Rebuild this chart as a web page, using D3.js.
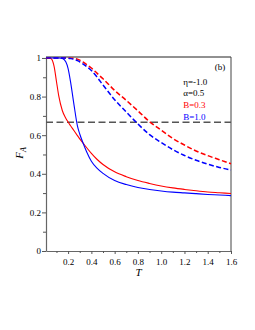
<!DOCTYPE html>
<html>
<head>
<meta charset="utf-8">
<script src="https://cdn.jsdelivr.net/npm/d3@7"></script>
<style>
  body { margin: 0; background: #fff; }
</style>
</head>
<body>
<div id="chart"></div>
<script>
// Temperature grid shared by all curves
const temps = [0.01, 0.05, 0.08, 0.1, 0.12, 0.15, 0.18, 0.2, 0.22, 0.25, 0.28, 0.3, 0.33, 0.36, 0.4,
               0.45, 0.5, 0.6, 0.7, 0.8, 0.9, 1.0, 1.1, 1.2, 1.3, 1.4, 1.5, 1.6];

// Solid curves
const redSolid = [1.0, 0.998, 0.955, 0.878, 0.802, 0.728, 0.688, 0.668, 0.65, 0.624, 0.598, 0.581, 0.558, 0.535, 0.506,
                  0.474, 0.448, 0.41, 0.385, 0.365, 0.35, 0.337, 0.327, 0.319, 0.312, 0.306, 0.302, 0.298];
const blueSolid = [1.0, 1.0, 1.0, 1.0, 1.0, 0.998, 0.98, 0.945, 0.88, 0.76, 0.648, 0.606, 0.557, 0.513, 0.465,
                   0.428, 0.402, 0.365, 0.344, 0.329, 0.319, 0.311, 0.305, 0.301, 0.297, 0.293, 0.29, 0.287];

// Dashed curves
const redDashed = [1.0, 1.0, 1.0, 1.0, 1.0, 1.0, 1.0, 1.0, 0.999, 0.998, 0.994, 0.989, 0.978, 0.966, 0.948,
                   0.92, 0.892, 0.832, 0.78, 0.726, 0.67, 0.626, 0.583, 0.549, 0.518, 0.494, 0.473, 0.452];
const blueDashed = [1.0, 1.0, 1.0, 1.0, 1.0, 1.0, 1.0, 0.999, 0.997, 0.993, 0.986, 0.98, 0.968, 0.955, 0.935,
                    0.9, 0.86, 0.784, 0.72, 0.658, 0.603, 0.562, 0.525, 0.495, 0.47, 0.45, 0.433, 0.42];

const refLevel = 2 / 3;

const xMajor = [0.2, 0.4, 0.6, 0.8, 1.0, 1.2, 1.4, 1.6];
const xMinor = [0.1, 0.3, 0.5, 0.7, 0.9, 1.1, 1.3, 1.5];
const yMajor = [0, 0.2, 0.4, 0.6, 0.8, 1];
const yMinor = [0.1, 0.3, 0.5, 0.7, 0.9];

const legendLines = [
    { label: "η=-1.0", color: "#000" },
    { label: "α=0.5", color: "#000" },
    { label: "B=0.3", color: "#ff0000" },
    { label: "B=1.0", color: "#0000ff" }
];

const serif = '"Liberation Serif", "DejaVu Serif", serif';

const svgWidth = 255;
const svgHeight = 330;
const margin = { top: 57, right: 24, bottom: 79, left: 46 };
const width = svgWidth - margin.left - margin.right;
const height = svgHeight - margin.top - margin.bottom;

const svg = d3.select('#chart').append('svg')
    .attr('width', svgWidth)
    .attr('height', svgHeight)
    .append('g')
    .attr('transform', `translate(${margin.left},${margin.top})`);

const xScale = d3.scaleLinear().domain([0.01, 1.6]).range([0, width]);
const yScale = d3.scaleLinear().domain([0, 1.005]).range([height, 0]);

// Top and right frame
svg.append('line').attr('x1', 0).attr('x2', width).attr('y1', 0).attr('y2', 0)
    .attr('stroke', '#222').attr('stroke-width', 1);
svg.append('line').attr('x1', width).attr('x2', width).attr('y1', 0).attr('y2', height)
    .attr('stroke', '#444').attr('stroke-width', 1);

// Axes
const xAxis = svg.append('g')
    .attr('transform', `translate(0,${height})`)
    .call(d3.axisBottom(xScale).tickValues(xMajor).tickFormat(d3.format('.1f')).tickSize(3).tickSizeOuter(0));
svg.append('g')
    .attr('transform', `translate(0,${height})`)
    .call(d3.axisBottom(xScale).tickValues(xMinor).tickFormat('').tickSize(2).tickSizeOuter(0))
    .select('.domain').remove();

const yAxis = svg.append('g')
    .call(d3.axisLeft(yScale).tickValues(yMajor).tickFormat(d3.format('~g')).tickSize(4).tickSizeOuter(0));
svg.append('g')
    .call(d3.axisLeft(yScale).tickValues(yMinor).tickFormat('').tickSize(3).tickSizeOuter(0))
    .select('.domain').remove();

svg.selectAll('.domain').attr('stroke', '#666').attr('stroke-width', 1.2);
svg.selectAll('.tick line').attr('stroke', '#555');
svg.selectAll('.tick text')
    .style('font-family', serif)
    .style('font-size', '9px')
    .attr('fill', '#000');
xAxis.selectAll('.tick text').attr('dy', '0.9em');
yAxis.selectAll('.tick text').attr('x', -5);

// Reference line at 2/3
svg.append('line')
    .attr('x1', 0).attr('x2', width)
    .attr('y1', yScale(refLevel)).attr('y2', yScale(refLevel))
    .attr('stroke', '#555')
    .attr('stroke-width', 1.5)
    .attr('stroke-dasharray', '7,3.5');

// Curves
const line = d3.line()
    .x((d, i) => xScale(temps[i]))
    .y(d => yScale(d))
    .curve(d3.curveMonotoneX);

const series = [
    { values: redDashed, color: '#ff0000', dash: '5,2.5', w: 1.5 },
    { values: blueDashed, color: '#0000ff', dash: '5,2.5', w: 1.5 },
    { values: redSolid, color: '#ff0000', dash: null, w: 1.1 },
    { values: blueSolid, color: '#0000ff', dash: null, w: 1.1 }
];

series.forEach(s => {
    svg.append('path')
        .datum(s.values)
        .attr('d', line)
        .attr('fill', 'none')
        .attr('stroke', s.color)
        .attr('stroke-width', s.w)
        .attr('stroke-dasharray', s.dash);
});

// Panel tag and legend text
svg.append('text')
    .attr('x', xScale(1.46))
    .attr('y', 13)
    .style('font-family', serif)
    .style('font-size', '9px')
    .text('(b)');

svg.selectAll('.legend')
    .data(legendLines)
    .enter()
    .append('text')
    .attr('x', xScale(1.19))
    .attr('y', (d, i) => 27.5 + i * 11.7)
    .style('font-family', serif)
    .style('font-size', '9px')
    .attr('fill', d => d.color)
    .text(d => d.label);

// Axis titles
svg.append('text')
    .attr('x', width / 2)
    .attr('y', height + 25)
    .style('text-anchor', 'middle')
    .style('font-family', serif)
    .style('font-style', 'italic')
    .style('font-size', '11px')
    .text('T');

const yTitle = svg.append('text')
    .attr('transform', `translate(${-23},${height / 2 - 1}) rotate(-90)`)
    .style('text-anchor', 'middle')
    .style('font-family', serif)
    .style('font-style', 'italic')
    .style('font-size', '11px');
yTitle.append('tspan').text('F');
yTitle.append('tspan').attr('dy', 2.5).style('font-size', '8px').text('A');
</script>
</body>
</html>
